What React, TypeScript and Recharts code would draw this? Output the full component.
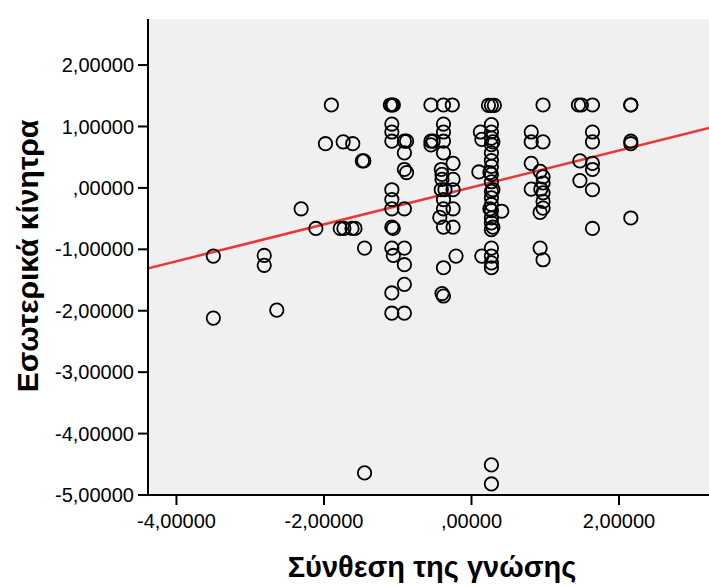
import {
  ScatterChart,
  Scatter,
  XAxis,
  YAxis,
  CartesianGrid,
  ReferenceLine,
  Label,
} from 'recharts';

// ─── Data ─────────────────────────────────────────────────────────────────────

// Σύνθεση της γνώσης (x) / Εσωτερικά κίνητρα (y), one entry per respondent
const knowledge: number[] = [
  -3.5, -3.5,
  -2.81, -2.81,
  -2.64, -2.31, -2.11, -1.98, -1.9,
  -1.78, -1.74, -1.73, -1.62, -1.61, -1.58,
  -1.48, -1.46, -1.45, -1.45,
  -1.1,
  -1.08, -1.08, -1.08, -1.08, -1.08, -1.08, -1.08, -1.08, -1.08, -1.08, -1.08,
  -1.06, -1.06, -1.06,
  -0.91, -0.91, -0.91, -0.91, -0.91, -0.91, -0.91, -0.91,
  -0.88, -0.88,
  -0.55, -0.55, -0.55, -0.52,
  -0.38, -0.38, -0.38, -0.38, -0.38, -0.38, -0.38, -0.38, -0.38, -0.38,
  -0.41, -0.41, -0.4, -0.4, -0.4, -0.43, -0.36,
  -0.26,
  -0.25, -0.25, -0.25, -0.25, -0.25, -0.21,
  0.27, 0.27, 0.27, 0.27, 0.27, 0.27, 0.27, 0.27, 0.27, 0.27, 0.27, 0.27,
  0.27, 0.27, 0.27, 0.27, 0.27, 0.27, 0.27, 0.27, 0.27, 0.27, 0.27,
  0.23, 0.31, 0.12, 0.14, 0.14, 0.1, 0.41,
  0.29, 0.29, 0.29, 0.25, 0.25,
  0.97, 0.97, 0.97, 0.97, 0.97, 0.97, 0.97, 0.97,
  0.81, 0.81, 0.81, 0.81,
  0.93, 0.93, 0.93, 0.94,
  1.45, 1.49,
  1.64, 1.64, 1.64, 1.64, 1.64, 1.64, 1.64,
  1.47, 1.47,
  2.16, 2.16, 2.16, 2.16, 2.16,
];

const motivation: number[] = [
  -1.11, -2.12,
  -1.1, -1.26,
  -1.99, -0.34, -0.66, 0.72, 1.35,
  -0.66, 0.75, -0.66, -0.66, 0.72, -0.66,
  0.44, 0.44, -0.98, -4.64,
  1.35,
  1.35, 1.04, 0.91, 0.76, -0.03, -0.19, -0.34, -0.64, -0.98, -1.71, -2.04,
  1.35, -0.66, -1.1,
  0.76, 0.57, 0.3, -0.34, -0.98, -1.25, -1.57, -2.04,
  0.76, 0.25,
  1.35, 0.76, 0.7, 0.76,
  1.35, 1.04, 0.91, 0.76, 0.57, -0.19, -0.34, -0.64, -1.3, -1.76,
  0.3, -0.03, 0.14, 0.22, -1.72, -0.48, -0.03,
  1.35,
  0.4, 0.14, -0.03, -0.34, -0.64, -1.11,
  1.345, 1.03, 0.91, 0.81, 0.705, 0.57, 0.445, 0.35, 0.22, 0.1, -0.055, -0.16,
  -0.27, -0.37, -0.49, -0.57, -0.68, -0.98, -1.11, -1.22, -1.3, -4.51, -4.82,
  1.345, 1.345, 0.91, 0.79, -1.11, 0.26, -0.38,
  0.75, -0.03, -0.64, 0.25, -0.34,
  1.35, 0.75, 0.18, 0.08, -0.08, -0.22, -0.33, -1.17,
  0.91, 0.75, 0.4, -0.02,
  0.27, -0.4, -0.98, -0.02,
  1.35, 1.35,
  1.35, 0.91, 0.75, 0.4, 0.3, -0.03, -0.66,
  0.44, 0.12,
  1.35, 1.35, 0.76, 0.72, -0.49,
];

// fit line end points (at the plot edges)
const fitX: number[] = [-4.386, 3.22];
const fitY: number[] = [-1.31, 0.975];

const xTicks: number[] = [-4, -2, 0, 2];
const yTicks: number[] = [-5, -4, -3, -2, -1, 0, 1, 2];

const points = knowledge.map((x, i) => ({ x, y: motivation[i] }));

// ─── Helpers ──────────────────────────────────────────────────────────────────

const FONT = '"Liberation Sans", Arial, sans-serif';

// SPSS style: comma decimals, no leading zero
function spssNumber(v: number) {
  const s = Math.abs(v).toFixed(5).replace('.', ',');
  const body = s.startsWith('0,') ? s.slice(1) : s;
  return (v < 0 ? '-' : '') + body;
}

function OpenCircle(props: any) {
  const { cx, cy } = props;
  if (cx == null || cy == null) return null;
  return <circle cx={cx} cy={cy} r={6.7} fill="none" stroke="#000" strokeWidth={1.8} />;
}

const tickStyle = { fontSize: 20, fill: '#000', fontFamily: FONT };

// ─── Component ────────────────────────────────────────────────────────────────

export default function App() {
  return (
    <div style={{ position: 'absolute', left: 0, top: 0, width: 709, height: 586, background: '#fff' }}>
      <ScatterChart width={709} height={586} margin={{ top: 19, right: 0, bottom: 0, left: 0 }}>
        <CartesianGrid fill="#f0f0f0" horizontal={false} vertical={false} />
        <XAxis
          type="number"
          dataKey="x"
          domain={[fitX[0], fitX[1]]}
          ticks={xTicks}
          allowDataOverflow
          height={91}
          tickFormatter={spssNumber}
          tick={tickStyle}
          tickSize={10}
          tickMargin={9}
          axisLine={{ stroke: '#000', strokeWidth: 2 }}
          tickLine={{ stroke: '#000', strokeWidth: 2 }}
        >
          <Label
            content={() => (
              <text
                x={432}
                y={567}
                textAnchor="middle"
                dominantBaseline="central"
                fontFamily={FONT}
                fontWeight="bold"
                fontSize={29}
                fill="#000"
              >
                Σύνθεση της γνώσης
              </text>
            )}
          />
        </XAxis>
        <XAxis
          xAxisId="top"
          orientation="top"
          type="number"
          dataKey="x"
          domain={[fitX[0], fitX[1]]}
          allowDataOverflow
          height={0}
          tick={false}
          tickLine={false}
          axisLine={{ stroke: '#000', strokeWidth: 2 }}
        />
        <YAxis
          type="number"
          dataKey="y"
          domain={[-5, 2.75]}
          ticks={yTicks}
          allowDataOverflow
          width={148}
          tickFormatter={spssNumber}
          tick={tickStyle}
          tickSize={10}
          tickMargin={4}
          axisLine={{ stroke: '#000', strokeWidth: 2 }}
          tickLine={{ stroke: '#000', strokeWidth: 2 }}
        >
          <Label
            content={() => (
              <text
                x={27}
                y={256}
                transform="rotate(-90 27 256)"
                textAnchor="middle"
                dominantBaseline="central"
                fontFamily={FONT}
                fontWeight="bold"
                fontSize={30}
                fill="#000"
              >
                Εσωτερικά κίνητρα
              </text>
            )}
          />
        </YAxis>
        <Scatter data={points} shape={<OpenCircle />} isAnimationActive={false} />
        <ReferenceLine
          segment={[
            { x: fitX[0], y: fitY[0] },
            { x: fitX[1], y: fitY[1] },
          ]}
          stroke="#ec3535"
          strokeWidth={2.5}
        />
      </ScatterChart>
    </div>
  );
}
